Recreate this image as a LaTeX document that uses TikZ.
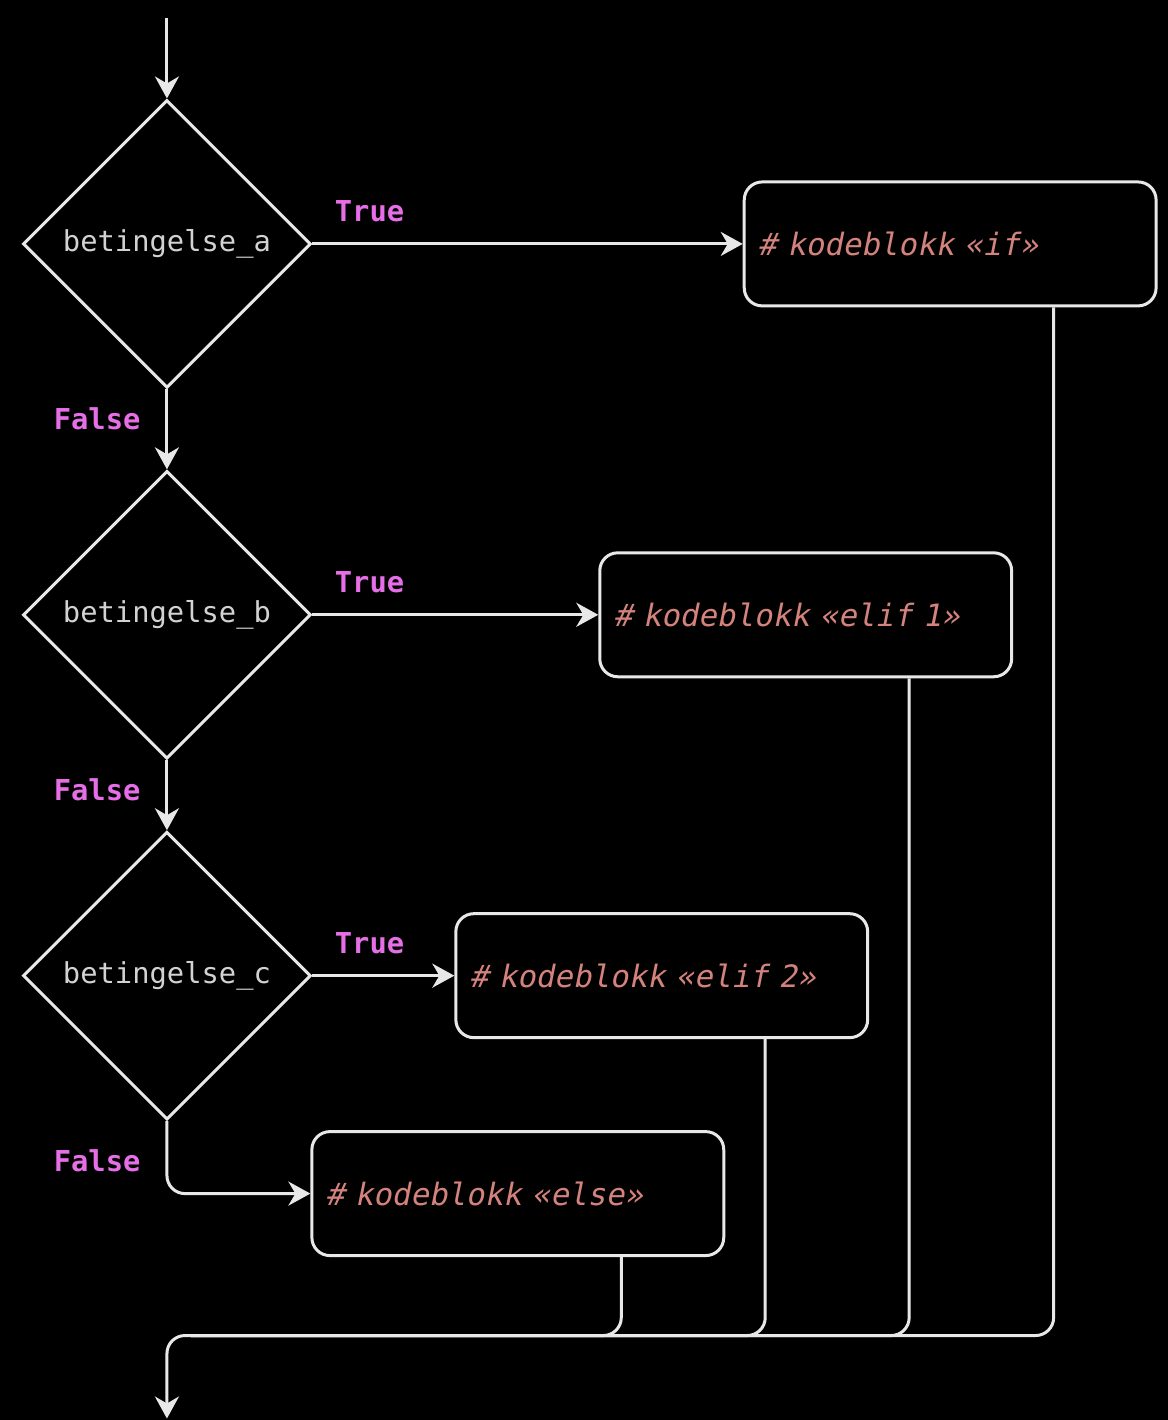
\documentclass[tikz,border=0pt]{standalone}
\usepackage{fontspec}
\setmonofont{DejaVu Sans Mono}
\newfontfamily\kodefont[FakeSlant=0.2]{DejaVu Sans Mono}
\usetikzlibrary{shapes.geometric,arrows.meta}

\definecolor{linje}{HTML}{E8E8E8}
\definecolor{condtxt}{HTML}{D2D2D2}
\definecolor{kode}{HTML}{D4837C}
\definecolor{lilla}{HTML}{E66EE6}

\tikzset{
  cond/.style={diamond, draw=linje, line width=1.5pt, inner sep=0pt,
    minimum width=144pt, minimum height=144pt, text=condtxt,
    font=\ttfamily\fontsize{14.4}{17}\selectfont},
  blokk/.style={rectangle, rounded corners=9pt, draw=linje, line width=1.5pt,
    minimum height=62pt, text width=192pt, inner xsep=7pt, align=left,
    text=kode, font=\kodefont\fontsize{15.4}{18}\selectfont},
  flow/.style={draw=linje, line width=1.5pt,
    -{Stealth[length=11pt,width=12pt,inset=3.5pt]}},
  lbl/.style={text=lilla, inner sep=0pt,
    font=\ttfamily\bfseries\fontsize{14.4}{17}\selectfont}
}

\begin{document}
\begin{tikzpicture}[x=0.5pt,y=-0.5pt]
   \fill[black] (0,0) rectangle (1168,1420);
   \foreach \n/\y/\t in
     { a/244/{betingelse\_a},
       b/615/{betingelse\_b},
       c/976/{betingelse\_c}}
     \node[cond] (\n) at (167,\y) {\t};
   \foreach \n/\x/\y/\t in
     { if/950.5/244/{if},
       elif1/806/615/{elif 1},
       elif2/662/976/{elif 2},
       else/518/1194/{else}}
     \node[blokk] (\n) at (\x,\y) {\# kodeblokk «\t»};
   \coordinate (start) at (167,18);
   \coordinate (join) at (167,1336);
   \coordinate (end) at (167,1419);
   \draw[flow] (start) -- (a.north);
   \draw[flow] (a.east) -- node[lbl,pos=0,anchor=base west,xshift=10.5pt,yshift=11pt] {True} (if.west);
   \draw[flow] (b.east) -- node[lbl,pos=0,anchor=base west,xshift=10.5pt,yshift=11pt] {True} (elif1.west);
   \draw[flow] (c.east) -- node[lbl,pos=0,anchor=base west,xshift=10.5pt,yshift=11pt] {True} (elif2.west);
   \draw[flow] (a.south) -- node[lbl,pos=0,anchor=base east,xshift=-12.5pt,yshift=-20pt] {False} (b.north);
   \draw[flow] (b.south) -- node[lbl,pos=0,anchor=base east,xshift=-12.5pt,yshift=-20pt] {False} (c.north);
   \draw[flow,rounded corners=9pt] (c.south) |- node[lbl,pos=0,anchor=base east,xshift=-12.5pt,yshift=-25pt] {False} (else.west);
   \draw[flow,rounded corners=9pt] ([xshift=51.75pt]if.south) |- (join) -- (end);
   \foreach \n in {elif1,elif2,else}
     \draw[linje,line width=1.5pt,rounded corners=9pt] ([xshift=51.75pt]\n.south) |- ([xshift=12pt]join);
\end{tikzpicture}
\end{document}
